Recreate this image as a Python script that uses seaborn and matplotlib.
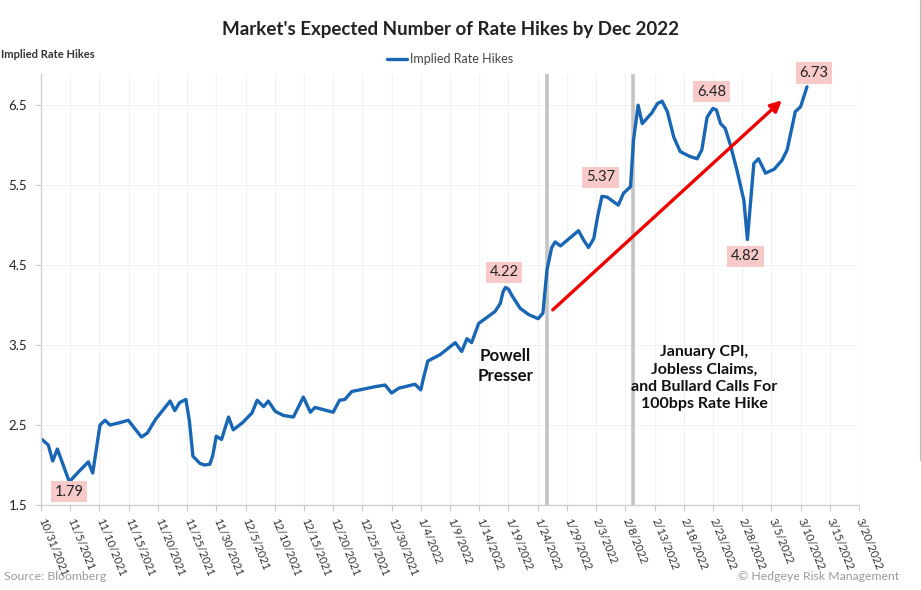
import numpy as np
import pandas as pd
import matplotlib
matplotlib.use("Agg")
import matplotlib.pyplot as plt
import seaborn as sns
from matplotlib.lines import Line2D

# ---------------- data ----------------
start_date = "2021-10-31"
day_offset = [0, 1.25, 2, 2.8, 3.8, 4.85, 6.5, 8.1, 8.85, 10.1, 10.96, 11.8, 13.5, 14.95,
              16.0, 17.2, 18.2, 19.6, 22.1, 22.9, 23.7, 24.8, 25.4, 26.0, 27.2, 28.0,
              28.9, 29.4, 30.0, 30.9, 32.1,
              32.9, 34.5, 36.1, 37.0, 38.1, 38.9, 40.1, 41.5, 43.2, 44.9, 46.1, 46.9,
              50.0, 51.1, 52.0, 53.2, 54.6, 57.2, 58.9, 60.0, 61.2, 64.0, 65.0, 65.5,
              66.2, 68.3, 70.9, 72.0, 72.9, 73.7, 74.9, 77.7, 78.6, 79.1, 79.5, 80.0,
              80.6, 82.0, 83.5, 85.1, 85.9, 86.6, 87.4, 88.0, 88.9, 92.0, 92.9, 93.7,
              94.6, 95.3, 96.0, 96.9, 98.8, 99.7, 100.9, 101.4, 102.2, 102.9, 104.5,
              105.5, 106.3, 107.2, 108.3, 109.4, 111.0, 112.3, 113.1, 114.0, 115.0,
              115.6, 116.3, 117.1, 118.0, 119.1, 120.3, 120.9, 122.0, 122.8, 124.0,
              125.5, 126.8, 127.7, 129.1, 130.0, 131.1]
implied_hikes = [2.33, 2.25, 2.05, 2.20, 2.00, 1.79, 1.92, 2.04, 1.90, 2.50, 2.56, 2.50, 2.53, 2.56,
                 2.46, 2.35, 2.40, 2.57, 2.80, 2.68, 2.78, 2.82, 2.55, 2.11, 2.02, 2.00,
                 2.01, 2.12, 2.36, 2.32, 2.60,
                 2.44, 2.53, 2.65, 2.81, 2.73, 2.80, 2.67, 2.62, 2.60, 2.85, 2.66, 2.72,
                 2.66, 2.81, 2.82, 2.92, 2.94, 2.98, 3.00, 2.90, 2.96, 3.01, 2.94, 3.10,
                 3.30, 3.38, 3.53, 3.42, 3.58, 3.53, 3.77, 3.92, 4.02, 4.17, 4.22, 4.20,
                 4.12, 3.96, 3.88, 3.83, 3.90, 4.44, 4.72, 4.79, 4.74, 4.93, 4.81, 4.72,
                 4.83, 5.12, 5.36, 5.35, 5.25, 5.40, 5.48, 6.06, 6.50, 6.27, 6.40,
                 6.52, 6.55, 6.42, 6.10, 5.92, 5.86, 5.83, 5.94, 6.35, 6.46,
                 6.44, 6.27, 6.21, 6.00, 5.69, 5.31, 4.82, 5.77, 5.83, 5.65,
                 5.70, 5.81, 5.94, 6.42, 6.48, 6.73]

tick_labels = ["10/31/2021", "11/5/2021", "11/10/2021", "11/15/2021", "11/20/2021",
               "11/25/2021", "11/30/2021", "12/5/2021", "12/10/2021", "12/15/2021",
               "12/20/2021", "12/25/2021", "12/30/2021", "1/4/2022", "1/9/2022",
               "1/14/2022", "1/19/2022", "1/24/2022", "1/29/2022", "2/3/2022",
               "2/8/2022", "2/13/2022", "2/18/2022", "2/23/2022", "2/28/2022",
               "3/5/2022", "3/10/2022", "3/15/2022", "3/20/2022"]
y_ticks = [1.5, 2.5, 3.5, 4.5, 5.5, 6.5]

event_dates = ["2022-01-25 14:00", "2022-02-09 07:00"]
event_texts = ["Powell\nPresser",
               "January CPI,\nJobless Claims,\nand Bullard Calls For\n100bps Rate Hike"]

callout_dates = ["2021-11-04 20:00", "2022-01-18 12:00", "2022-02-04", "2022-02-23",
                 "2022-02-28 20:00", "2022-03-11 02:00"]
callout_values = [1.79, 4.22, 5.37, 6.48, 4.82, 6.73]

# ---------------- figure ----------------
sns.set_theme(style="white")
plt.rcParams["font.family"] = ["Lato", "DejaVu Sans"]

fig = plt.figure(figsize=(9.21, 5.90), dpi=100)
ax = fig.add_axes([41 / 921, 1 - 505 / 590, 818 / 921, 431 / 590])

df = pd.DataFrame({
    "date": pd.Timestamp(start_date) + pd.to_timedelta(day_offset, unit="D"),
    "Implied Rate Hikes": implied_hikes,
})
line_color = "#1866b4"
sns.lineplot(data=df, x="date", y="Implied Rate Hikes", ax=ax, color=line_color,
             linewidth=2.4, label="Implied Rate Hikes", solid_joinstyle="round",
             solid_capstyle="round")

x_ticks = pd.to_datetime(tick_labels, format="%m/%d/%Y")
ax.set_xticks(x_ticks)
ax.set_xticklabels(tick_labels)
ax.set_xlim(x_ticks[0], x_ticks[-1])
ax.set_yticks(y_ticks)
ax.set_yticklabels([f"{v:.1f}" for v in y_ticks])
ax.set_ylim(1.5, 6.89)

for lbl in ax.get_xticklabels():
    lbl.set_rotation(-68)
    lbl.set_rotation_mode("anchor")
    lbl.set_ha("left")
    lbl.set_va("center")
ax.tick_params(axis="x", labelsize=8.0, colors="#333333", length=4, width=0.8,
               color="#c8c8c8", pad=6)
ax.tick_params(axis="y", labelsize=9.5, colors="#222222", length=4, width=0.8,
               color="#c8c8c8", pad=6)
ax.tick_params(bottom=True, left=True)

ax.grid(True, color="#f1f1f1", linewidth=0.8)
for s in ["top", "right"]:
    ax.spines[s].set_visible(False)
for s in ["left", "bottom"]:
    ax.spines[s].set_color("#cfcfcf")
    ax.spines[s].set_linewidth(1.0)
ax.set_xlabel("")
ax.set_ylabel("")

# event lines
for d in event_dates:
    ax.axvline(pd.Timestamp(d), color="#c4c4c4", linewidth=2.6, zorder=1)

ax.text(pd.Timestamp("2022-01-18 12:00"), 1.5 + (505 - 366) / 80, event_texts[0],
        ha="center", va="center", fontsize=12.2, fontweight="bold", color="#111111",
        linespacing=1.3)
ax.text(pd.Timestamp("2022-02-21 12:00"), 1.5 + (505 - 378) / 80, event_texts[1],
        ha="center", va="center", fontsize=11.5, fontweight="bold", color="#111111",
        linespacing=1.3)

# red arrow
ax.annotate("", xy=(pd.Timestamp("2022-03-06 19:00"), 6.56),
            xytext=(pd.Timestamp("2022-01-26 14:00"), 3.94),
            arrowprops=dict(arrowstyle="-|>", color="#ee0000", lw=2.4,
                            mutation_scale=16, shrinkA=0, shrinkB=0), zorder=4)

# callouts
offsets = [(0, -7), (-1, 11), (-1, 13), (-1, 11), (-1, -12), (5, 10)]
for d, v, off in zip(callout_dates, callout_values, offsets):
    ax.annotate(f"{v:.2f}", xy=(pd.Timestamp(d), v), xytext=off,
                textcoords="offset points", ha="center", va="center",
                fontsize=10.5, color="#222222", annotation_clip=False,
                bbox=dict(boxstyle="square,pad=0.25", fc="#f8c9c9", ec="none"),
                zorder=5)

# legend
leg = ax.legend(loc="lower center", bbox_to_anchor=(0.5, 0.995), frameon=False,
                handlelength=1.6, handletextpad=0.2, fontsize=9)
for t in leg.get_texts():
    t.set_color("#444444")

# titles and notes
fig.text(0.489, 1 - 30 / 590, "Market's Expected Number of Rate Hikes by Dec 2022",
         ha="center", va="center", fontsize=13.5, fontweight="bold", color="#222222")
fig.text(0.001, 1 - 55 / 590, "Implied Rate Hikes", ha="left", va="center",
         fontsize=8, fontweight="bold", color="#333333")
fig.text(0.004, 1 - 577 / 590, "Source: Bloomberg", ha="left", va="center",
         fontsize=8.8, color="#9a9a9a")
fig.text(0.976, 1 - 577 / 590, "\u00a9 Hedgeye Risk Management", ha="right", va="center",
         fontsize=8.8, color="#9a9a9a")

fig.add_artist(Line2D([919.5 / 921, 919.5 / 921], [1.0, 1 - 460 / 590],
                      transform=fig.transFigure, color="#bdbdbd", linewidth=0.8))

fig.savefig("out.png", dpi=100)
